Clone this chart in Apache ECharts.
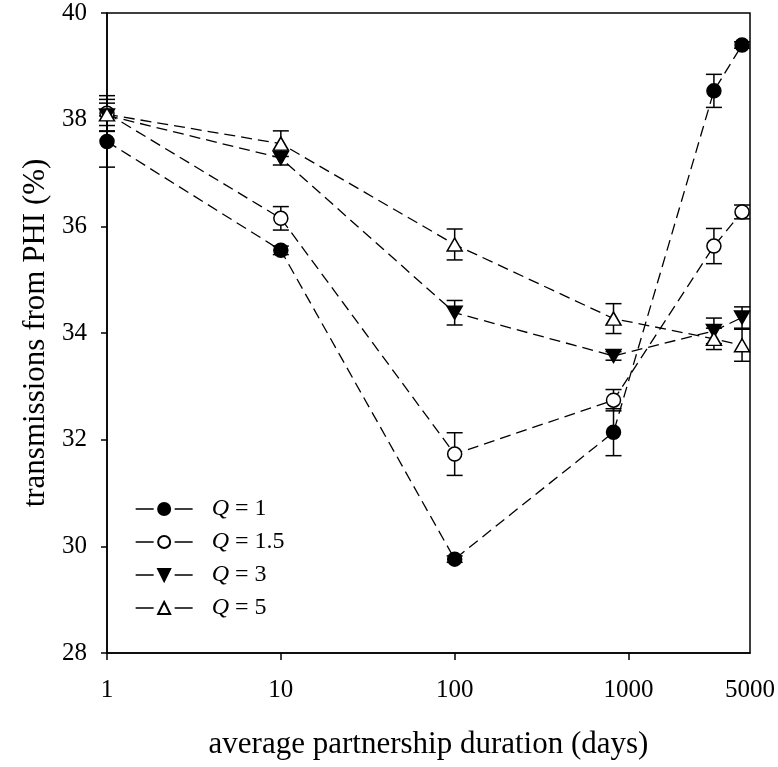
<!DOCTYPE html>
<html>
<head>
<meta charset="utf-8">
<title>Transmissions from PHI</title>
<script src="https://cdn.jsdelivr.net/npm/echarts@6/dist/echarts.min.js"></script>
<style>
  html, body { margin: 0; padding: 0; background: #fff; }
  #chart { width: 778px; height: 767px; }
</style>
</head>
<body>
<div id="chart"></div>
<script>
// Average partnership duration (days)
const durations = [1, 10, 100, 820, 3100, 4500];

// Transmissions from PHI (%) and standard errors, one pair per Q value
const q1Values  = [37.59, 35.55, 29.76, 32.14, 38.54, 39.40];
const q1Errors  = [0.48, 0.08, 0.06, 0.44, 0.31, 0.06];
const q15Values = [38.12, 36.15, 31.73, 32.74, 35.63, 36.27];
const q15Errors = [0.33, 0.22, 0.40, 0.20, 0.33, 0.13];
const q3Values  = [38.08, 37.28, 34.38, 33.57, 34.04, 34.29];
const q3Errors  = [0.30, 0.13, 0.23, 0.08, 0.24, 0.20];
const q5Values  = [38.10, 37.55, 35.66, 34.27, 33.89, 33.77];
const q5Errors  = [0.21, 0.24, 0.29, 0.28, 0.20, 0.30];

const seriesNames = ['Q = 1', 'Q = 1.5', 'Q = 3', 'Q = 5'];
const xTickValues = [1, 10, 100, 1000];
const xLabelValues = [1, 10, 100, 1000, 5000];
const yTickLabels = [28, 30, 32, 34, 36, 38, 40];

const FONT = '"Liberation Serif", "Times New Roman", serif';

const groups = [
  { name: seriesNames[0], values: q1Values,  errors: q1Errors,  symbol: 'circle',   fill: '#000', rotate: 0,   size: 14 },
  { name: seriesNames[1], values: q15Values, errors: q15Errors, symbol: 'circle',   fill: '#fff', rotate: 0,   size: 14 },
  { name: seriesNames[2], values: q3Values,  errors: q3Errors,  symbol: 'triangle', fill: '#000', rotate: 180, size: [15, 13] },
  { name: seriesNames[3], values: q5Values,  errors: q5Errors,  symbol: 'triangle', fill: '#fff', rotate: 0,   size: [15, 13] }
];

// vertical error bar with short caps
function errorBarItem(params, api) {
  const x = api.value(0);
  const lo = api.coord([x, api.value(1) - api.value(2)]);
  const hi = api.coord([x, api.value(1) + api.value(2)]);
  const half = 8;
  const style = { stroke: '#000', lineWidth: 1.5, fill: null };
  return {
    type: 'group',
    children: [
      { type: 'line', shape: { x1: lo[0], y1: lo[1], x2: hi[0], y2: hi[1] }, style },
      { type: 'line', shape: { x1: lo[0] - half, y1: lo[1], x2: lo[0] + half, y2: lo[1] }, style },
      { type: 'line', shape: { x1: hi[0] - half, y1: hi[1], x2: hi[0] + half, y2: hi[1] }, style }
    ]
  };
}

const series = [];
groups.forEach(function (g) {
  series.push({
    type: 'custom',
    name: g.name + ' error',
    renderItem: errorBarItem,
    data: durations.map(function (d, i) { return [d, g.values[i], g.errors[i]]; }),
    z: 2,
    silent: true
  });
});
groups.forEach(function (g) {
  series.push({
    type: 'line',
    name: g.name,
    data: durations.map(function (d, i) { return [d, g.values[i]]; }),
    symbol: g.symbol,
    symbolSize: g.size,
    symbolRotate: g.rotate,
    showAllSymbol: true,
    lineStyle: { color: '#000', width: 1.3, type: [11, 6] },
    itemStyle: { color: g.fill, borderColor: '#000', borderWidth: 1.5 },
    z: 3,
    animation: false
  });
});

const chart = echarts.init(document.getElementById('chart'), null, { renderer: 'canvas' });
chart.setOption({
  animation: false,
  backgroundColor: '#fff',
  grid: {
    left: 107, right: 28, top: 13, bottom: 114,
    show: true, borderColor: '#000', borderWidth: 1.5, backgroundColor: 'transparent'
  },
  legend: {
    data: seriesNames,
    orient: 'vertical',
    left: 135,
    top: 497,
    padding: 0,
    itemWidth: 57,
    itemHeight: 15,
    itemGap: 9,
    lineStyle: { type: [18, 21], width: 1.3, color: '#000' },
    formatter: function (name) { return '{q|Q}' + name.slice(1); },
    textStyle: {
      fontFamily: FONT, fontSize: 24, color: '#000', padding: [0, 0, 0, 14],
      rich: { q: { fontFamily: FONT, fontSize: 24, fontStyle: 'italic', color: '#000' } }
    }
  },
  xAxis: {
    type: 'log',
    logBase: 10,
    min: 1,
    max: 5000,
    name: 'average partnership duration (days)',
    nameLocation: 'middle',
    nameGap: 76,
    nameTextStyle: { fontFamily: FONT, fontSize: 31, color: '#000' },
    axisLine: { lineStyle: { color: '#000', width: 1.5 } },
    axisTick: { show: true, inside: false, length: 7, customValues: xTickValues, lineStyle: { color: '#000', width: 1.5 } },
    minorTick: { show: false },
    axisLabel: {
      customValues: xLabelValues, margin: 25, fontFamily: FONT, fontSize: 25, color: '#000',
      formatter: function (v) { return String(Math.round(v)); }
    },
    splitLine: { show: false }
  },
  yAxis: {
    type: 'value',
    min: yTickLabels[0],
    max: yTickLabels[yTickLabels.length - 1],
    interval: 2,
    name: 'transmissions from PHI (%)',
    nameLocation: 'middle',
    nameGap: 54,
    nameTextStyle: { fontFamily: FONT, fontSize: 31, color: '#000' },
    axisLine: { show: true, lineStyle: { color: '#000', width: 1.5 } },
    axisTick: { show: true, inside: false, length: 6, lineStyle: { color: '#000', width: 1.5 } },
    axisLabel: { margin: 20, fontFamily: FONT, fontSize: 25, color: '#000' },
    splitLine: { show: false }
  },
  series: series
});
</script>
</body>
</html>
